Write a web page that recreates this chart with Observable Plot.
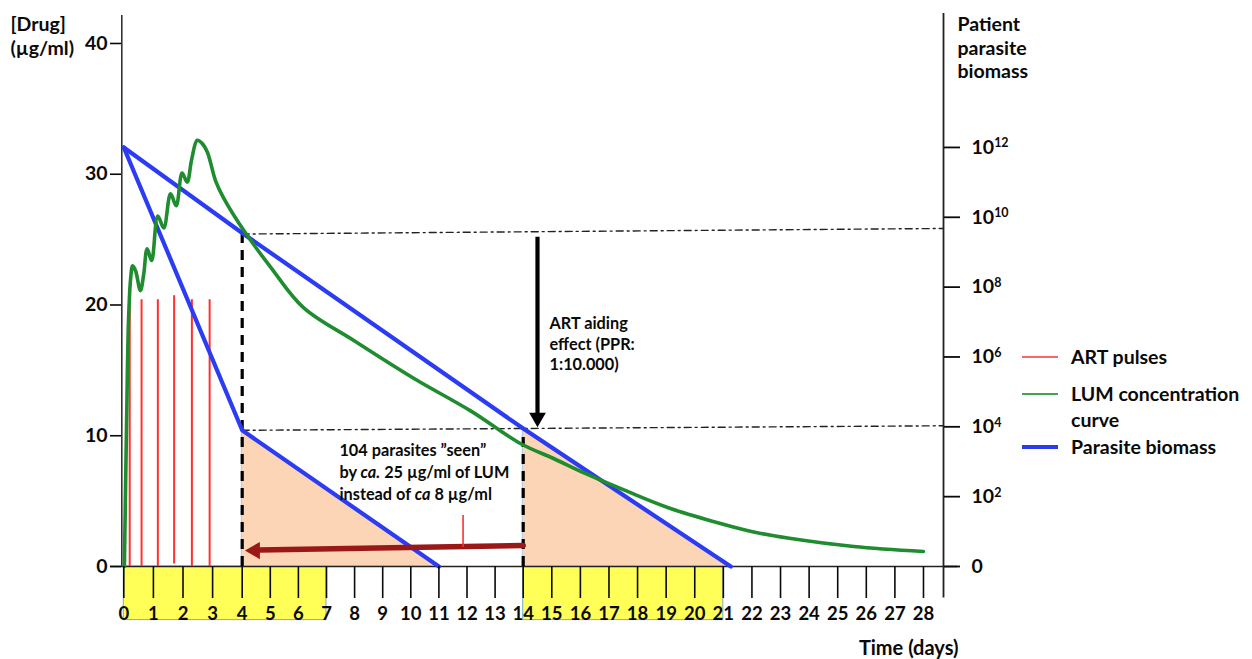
<!DOCTYPE html>
<html><head><meta charset="utf-8">
<script src="https://cdn.jsdelivr.net/npm/d3@7"></script>
<script src="https://cdn.jsdelivr.net/npm/@observablehq/plot@0.6"></script>
<style>
body{margin:0;background:#fff;}
#wrap{position:relative;width:1252px;height:659px;font-family:Lato,"Open Sans",sans-serif;font-weight:700;color:#0a0a0a;}
.sw{position:absolute;left:1022px;width:36px;}
.lt{position:absolute;left:1071px;white-space:pre;font-size:19.5px;line-height:26px;}
</style></head><body><div id="wrap"></div>
<script>
// ---- data ----
// LUM concentration curve (days, µg/ml)
const lumDays = [0.02,0.09,0.16,0.23,0.30,0.40,0.56,0.67,0.79,0.94,1.15,1.35,1.58,1.77,1.97,2.14,2.29,2.48,2.63,2.82,3.10,3.37,4.12,5.01,6.18,7.96,10.10,12.13,13.90,15.06,16.25,17.65,19.15,20.90,22.06,23.25,25.56,28.0];
const lumConc = [0,10.4,18.8,22.0,23.0,22.6,21.1,22.3,24.3,23.4,26.8,25.9,28.5,27.6,30.1,29.4,31.1,32.6,32.4,31.7,29.5,28.2,25.5,22.9,19.8,17.3,14.4,11.9,9.41,8.26,7.04,5.74,4.44,3.29,2.64,2.18,1.53,1.15];
// Parasite biomass (log10 parasites)
const slowDays = [0, 4, 14, 21.26];
const slowExp  = [12, 9.55, 3.95, 0];
const fastDays = [0, 4, 11];
const fastExp  = [12, 3.9, 0];
// ART pulses
const pulseDays   = [0.2, 0.6, 1.15, 1.7, 2.3, 2.9];
const pulseTop    = [20.4, 20.4, 20.4, 20.7, 20.4, 20.4];
const pulseBottom = [0, 0, 0, 0.2, 0, 0];
// reference levels (log10 parasites)
const upperLevelDays = [4, 28.7];
const upperLevelExp  = [9.52, 9.68];
const lowerLevelDays = [4, 28.7];
const lowerLevelExp  = [3.9, 4.03];
// dosing windows (days)
const windowStart = [0, 14];
const windowEnd   = [7, 21];
// annotation arrows
const artArrowDay = 14.5, artArrowFromExp = 9.43, artArrowShaftEndExp = 4.3, artArrowToExp = 3.99;
const lumArrowDays = [14, 4.6], lumArrowConc = [1.6, 1.26];
const lumArrowTip = {day: 4.1, conc: 1.22};
const markDay = 11.86, markConc = [1.45, 3.9];
// ticks
const xTicks = [0,1,2,3,4,5,6,7,8,9,10,11,12,13,14,15,16,17,18,19,20,21,22,23,24,25,26,27,28];
const leftTicks = [0,10,20,30,40];
const rightExps = [12,10,8,6,4,2,0];
const rightLabels = ["10^12","10^10","10^8","10^6","10^4","10^2","0"];

// right axis: log10 units relative to left axis units
const K = 34.92 / 13.075;
const toDrug = e => e * K;
// the printed day axis is slightly uneven: ticks 0–4 are a bit wider apart
const dayPos = d3.scaleLinear().domain([0, 4, 14, 28.7]).range([123.3, 241.7, 522.7, 943]);

const lum = lumDays.map((d,i)=>({day:d, conc:lumConc[i]}));
const slow = slowDays.map((d,i)=>({day:d, conc:toDrug(slowExp[i])}));
const fast = fastDays.map((d,i)=>({day:d, conc:toDrug(fastExp[i])}));
const pulses = pulseDays.map((d,i)=>({day:d, top:pulseTop[i], bottom:pulseBottom[i]}));
const upper = upperLevelDays.map((d,i)=>({day:d, conc:toDrug(upperLevelExp[i])}));
const lower = lowerLevelDays.map((d,i)=>({day:d, conc:toDrug(lowerLevelExp[i])}));
const windows = windowStart.map((s,i)=>({from:s, to:windowEnd[i]}));
const fastTail = fast.slice(1);
const slowTail = slow.slice(2);
const dashed = [{day:4, top:toDrug(slowExp[1])}, {day:14, top:toDrug(lowerLevelExp[0] + 0.02)}];
const lumArrow = lumArrowDays.map((d,i)=>({day:d, conc:lumArrowConc[i]}));
const rightTickVals = rightExps.map(toDrug);
const xTickPos = xTicks.map(dayPos);

const chart = Plot.plot({
  width: 1252, height: 659,
  marginLeft: 121, marginRight: 309, marginTop: 15, marginBottom: 93,
  x: {transform: dayPos, domain: [123.3, 943], range: [123.3, 943]},
  y: {domain: [0, 42.14]},
  style: {fontFamily: "Lato, 'Open Sans', sans-serif", fontWeight: "bold", fontSize: "19px", color: "#0a0a0a", background: "transparent", overflow: "visible"},
  marks: [
    Plot.rect(windows, {x1: "from", x2: "to", y1: 0, y2: -4.1, fill: "#ffff57", stroke: "#7fa7cc", strokeWidth: 1}),
    Plot.areaY(fastTail, {x: "day", y: "conc", fill: "#fbd5b5", stroke: "#a9c8ea", strokeWidth: 1}),
    Plot.areaY(slowTail, {x: "day", y: "conc", fill: "#fbd5b5", stroke: "#a9c8ea", strokeWidth: 1}),
    Plot.ruleY([{y: 0, x1: -0.45, x2: 29.2}], {y: "y", x1: "x1", x2: "x2", stroke: "#222", strokeWidth: 1.6}),
    Plot.ruleX([0], {y1: 0, y2: 42.14, dx: -2, stroke: "#333", strokeWidth: 1.6}),
    Plot.ruleX([28.7], {y1: -2.4, y2: 42.3, stroke: "#222", strokeWidth: 1.8}),
    Plot.line(upper, {x: "day", y: "conc", stroke: "#222", strokeWidth: 1.4, strokeDasharray: "7,4,2,4"}),
    Plot.line(lower, {x: "day", y: "conc", stroke: "#222", strokeWidth: 1.4, strokeDasharray: "7,4,2,4"}),
    Plot.ruleX(dashed, {x: "day", y1: 0, y2: "top", stroke: "#000", strokeWidth: 3.2, strokeDasharray: "10,7"}),
    Plot.ruleX(pulses, {x: "day", y1: "bottom", y2: "top", stroke: "#ff3030", strokeWidth: 2}),
    Plot.line(slow, {x: "day", y: "conc", stroke: "#2b3cf2", strokeWidth: 4.2}),
    Plot.line(fast, {x: "day", y: "conc", stroke: "#2b3cf2", strokeWidth: 4.2}),
    Plot.line(lum, {x: "day", y: "conc", curve: "catmull-rom", stroke: "#1f8c2f", strokeWidth: 3.6}),
    // ART aiding arrow
    Plot.ruleX([artArrowDay], {y1: toDrug(artArrowFromExp), y2: toDrug(artArrowShaftEndExp), stroke: "#000", strokeWidth: 4.2}),
    Plot.dot([{day: artArrowDay, conc: toDrug(artArrowToExp)}], {x: "day", y: "conc", symbol: "triangle", r: 6.2, rotate: 180, dy: -9.6, fill: "#000", stroke: "none"}),
    // LUM "seen" arrow
    Plot.line(lumArrow, {x: "day", y: "conc", stroke: "#9a1818", strokeWidth: 5.5}),
    Plot.dot([lumArrowTip], {x: "day", y: "conc", symbol: "triangle", r: 6.4, rotate: -90, dx: 9.9, fill: "#9a1818", stroke: "none"}),
    Plot.ruleX([markDay], {y1: markConc[0], y2: markConc[1], stroke: "#ff3030", strokeWidth: 1.6}),
    // annotations
    Plot.text([{day: 14.92, conc: 19.3, text: "ART aiding\neffect (PPR:\n1:10.000)"}], {x: "day", y: "conc", text: "text", textAnchor: "start", lineAnchor: "top", lineHeight: 1.27, fontSize: 16.3}),
    Plot.text([{day: 7.46, conc: 9.68, text: "104 parasites ”seen”\nby *ca.* 25 µg/ml of LUM\ninstead of *ca* 8 µg/ml"}], {x: "day", y: "conc", text: "text", textAnchor: "start", lineAnchor: "top", lineHeight: 1.35, fontSize: 16.3}),
    // axis titles
    Plot.text(["[Drug]\n(µg/ml)"], {frameAnchor: "top-left", dx: -111, dy: -1, textAnchor: "start", lineAnchor: "top", lineHeight: 1.2, fontSize: 19.5}),
    Plot.text(["Patient\nparasite\nbiomass"], {frameAnchor: "top-right", dx: 14, dy: -1, textAnchor: "start", lineAnchor: "top", lineHeight: 1.2, fontSize: 19.5}),
    Plot.text(["Time (days)"], {frameAnchor: "bottom-right", dx: 15, dy: 82, textAnchor: "end", lineAnchor: "middle", fontSize: 20}),
    // axes
    Plot.axisY({anchor: "left", ticks: leftTicks, tickSize: 11, tickPadding: 3, label: null, strokeWidth: 1.6, fontSize: 19.5}),
    Plot.axisY({anchor: "right", ticks: rightTickVals, tickFormat: d => rightLabels[rightTickVals.indexOf(d)], tickSize: 16, tickPadding: 12, label: null, strokeWidth: 1.8, fontSize: 19.5}),
    Plot.axisX({ticks: xTickPos, tickFormat: p => String(xTicks[xTickPos.indexOf(p)]), tickSize: 32, tickPadding: 8, label: null, strokeWidth: 1.6, fontSize: 18.5})
  ]
});

// rich text: superscripts and italics
d3.select(chart).selectAll("text, tspan").each(function() {
  const nodes = Array.from(this.childNodes);
  if (nodes.length !== 1 || nodes[0].nodeType !== 3) return;
  const s = nodes[0].nodeValue;
  const sup = /^10\^(\d+)$/.exec(s);
  const el = d3.select(this);
  if (sup) {
    el.text("10");
    el.append("tspan").attr("dy", "-0.5em").attr("font-size", "0.64em").text(sup[1]);
  } else if (s.includes("*")) {
    el.text("");
    s.split("*").forEach((part, i) => {
      if (!part) return;
      if (i % 2) el.append("tspan").attr("font-style", "italic").text(part);
      else this.appendChild(document.createTextNode(part));
    });
  }
});

const wrap = document.getElementById("wrap");
wrap.appendChild(chart);

// legend
const legend = [
  {label: "ART pulses", color: "#f46a6a", w: 2.5, cy: 357},
  {label: "LUM concentration\ncurve", color: "#45a055", w: 2.5, cy: 394},
  {label: "Parasite biomass", color: "#2b3cf0", w: 4.5, cy: 447}
];
legend.forEach(it => {
  const sw = document.createElement("div");
  sw.className = "sw";
  sw.style.top = (it.cy - it.w / 2) + "px";
  sw.style.height = it.w + "px";
  sw.style.background = it.color;
  wrap.appendChild(sw);
  const t = document.createElement("div");
  t.className = "lt";
  t.style.top = (it.cy - 13) + "px";
  t.textContent = it.label;
  wrap.appendChild(t);
});
</script></body></html>
